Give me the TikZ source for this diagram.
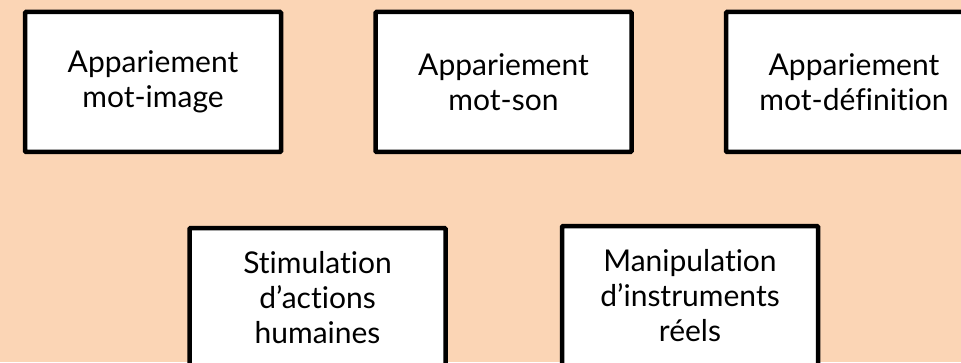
\documentclass[tikz,border=0pt]{standalone}
\usepackage{fontspec}
\setmainfont[Ligatures=NoCommon]{Lato}
\definecolor{peach}{HTML}{FBD5B5}

\begin{document}
\begin{tikzpicture}[x=1pt, y=1pt,
		box/.style={draw=black, fill=white, line width=4.5pt, rounded corners=1pt,
			minimum width=256pt, minimum height=140pt, align=center,
			font=\fontsize{30}{35}\selectfont}]
					\useasboundingbox (0,0) rectangle (961,362);
					\fill[peach] (0,0) rectangle (961,362);
					\clip (0,0) rectangle (961,362);
					\node[box] (X1) at (153,280) {Appariement\\mot-image};
					\node[box] (X2) at (503.5,280) {Appariement\\mot-son};
					\node[box] (X3) at (854,280) {Appariement\\mot-définition};
					\node[box] (X4) at (317.5,64) {Stimulation\\d’actions\\humaines};
					\node[box] (X5) at (690,66) {Manipulation\\d’instruments\\réels};
				\end{tikzpicture}
\end{document}
